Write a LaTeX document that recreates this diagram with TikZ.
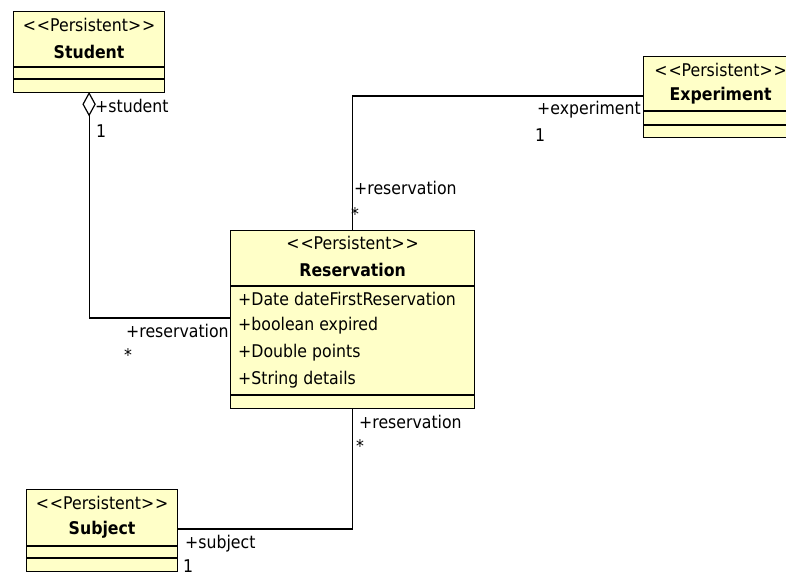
\documentclass[tikz,border=0pt]{standalone}
\usepackage{fontspec}
\setmainfont{DejaVu Sans Condensed}
\definecolor{umlfill}{RGB}{255,255,200}
\newcommand{\persistent}{<\kern1pt<Persistent>\kern1pt>}
\begin{document}
\begin{tikzpicture}[x=1pt,y=-1pt,
  txt/.style={inner sep=0pt,font=\fontsize{17.5}{20}\selectfont},
  cls/.style={draw=black,fill=umlfill,line width=1.2pt,rectangle,inner sep=0pt,anchor=north west},
  stereo/.style={txt},
  cname/.style={txt,font=\fontsize{17.5}{20}\selectfont\bfseries},
  attr/.style={txt,anchor=west},
  lbl/.style={txt,anchor=west},
  sep/.style={line width=1.2pt},
  assoc/.style={line width=1.2pt}]
\useasboundingbox (0,0) rectangle (786,574);
\clip (0,0) rectangle (786,574);

% Student
\node[cls,minimum width=151pt,minimum height=81pt] (student) at (13,11) {};
\draw[sep] ([yshift=-56pt]student.north west) -- ([yshift=-56pt]student.north east);
\draw[sep] ([yshift=-68pt]student.north west) -- ([yshift=-68pt]student.north east);
\node[stereo] (studentst) at ([yshift=-14pt]student.north) {\persistent};
\node[cname] (studentnm) at ([yshift=-41pt]student.north) {Student};

% Experiment
\node[cls,minimum width=154pt,minimum height=81pt] (experiment) at (643,56) {};
\draw[sep] ([yshift=-55pt]experiment.north west) -- ([yshift=-55pt]experiment.north east);
\draw[sep] ([yshift=-69pt]experiment.north west) -- ([yshift=-69pt]experiment.north east);
\node[stereo] (experimentst) at ([yshift=-14pt]experiment.north) {\persistent};
\node[cname] (experimentnm) at ([yshift=-40pt]experiment.north) {Experiment};

% Reservation
\node[cls,minimum width=244pt,minimum height=178pt] (reservation) at (230,230) {};
\draw[sep] ([yshift=-56pt]reservation.north west) -- ([yshift=-56pt]reservation.north east);
\draw[sep] ([yshift=-165pt]reservation.north west) -- ([yshift=-165pt]reservation.north east);
\node[stereo] (reservationst) at ([yshift=-13pt]reservation.north) {\persistent};
\node[cname] (reservationnm) at ([yshift=-40pt]reservation.north) {Reservation};
\node[attr] (a1) at ([xshift=8pt,yshift=-69pt]reservation.north west) {+Date dateFirstReservation};
\node[attr] (a2) at ([xshift=8pt,yshift=-96pt]reservation.north west) {+boolean expired};
\node[attr] (a3) at ([xshift=8pt,yshift=-123pt]reservation.north west) {+Double points};
\node[attr] (a4) at ([xshift=8pt,yshift=-150pt]reservation.north west) {+String details};

% Subject
\node[cls,minimum width=151pt,minimum height=82pt] (subject) at (26,489) {};
\draw[sep] ([yshift=-57pt]subject.north west) -- ([yshift=-57pt]subject.north east);
\draw[sep] ([yshift=-69pt]subject.north west) -- ([yshift=-69pt]subject.north east);
\node[stereo] (subjectst) at ([yshift=-14pt]subject.north) {\persistent};
\node[cname] (subjectnm) at ([yshift=-41pt]subject.north) {Subject};

% Student -- Reservation (aggregation)
\draw[assoc] ([yshift=-22pt]student.south) |- ([yshift=-88pt]reservation.north west);
\draw[assoc,fill=white] (student.south) -- ++(6,11) -- ++(-6,11) -- ++(-6,-11) -- cycle;
\node[lbl] (l1) at (95,106) {+student};
\node[lbl] (l2) at (96,131) {1};
\node[lbl] (l3) at (126,331) {+reservation};
\node[lbl] (l4) at (124,355) {*};

% Experiment -- Reservation
\draw[assoc] ([yshift=-40pt]experiment.north west) -| (reservation.north);
\node[lbl] (l5) at (537,110) {+experiment};
\node[lbl] (l6) at (535,135) {1};
\node[lbl] (l7) at (354,188) {+reservation};
\node[lbl] (l8) at (351,214) {*};

% Reservation -- Subject
\draw[assoc] (reservation.south) |- ([yshift=-40pt]subject.north east);
\node[lbl] (l9) at (359,422) {+reservation};
\node[lbl] (l10) at (356,446) {*};
\node[lbl] (l11) at (185,544) {+subject};
\node[lbl] (l12) at (183,566) {1};
\end{tikzpicture}
\end{document}
